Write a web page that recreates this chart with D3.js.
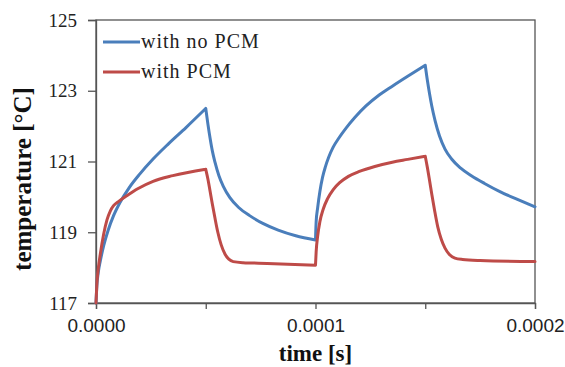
<!DOCTYPE html>
<html><head><meta charset="utf-8">
<script src="https://cdn.jsdelivr.net/npm/d3@7"></script>
<style>body{margin:0;background:#fff}svg{display:block}</style>
</head><body><div id="chart"></div>
<script>
const seriesNames = ["with no PCM", "with PCM"];
const seriesColors = ["#4a7ebb", "#be4b48"];
// time in microseconds (converted to seconds below)
const timeNoPCMus = [0, 0.4, 1, 2, 3.5, 5.5, 8, 11, 15, 20, 26, 33, 41, 50,
  51, 52, 53, 54.2, 56, 58, 61, 65, 70, 76, 83, 91, 100,
  100.3, 101, 102, 103.2, 104.5, 106, 108, 110.5, 114, 118, 123, 129, 135, 142, 150,
  151, 152, 153, 154.5, 156.5, 159, 162, 166, 171, 177, 184, 192, 200];
const tempNoPCM = [117, 117.5, 117.85, 118.2, 118.62, 119.05, 119.47, 119.85, 120.25, 120.65, 121.07, 121.5, 121.96, 122.5,
  122.05, 121.65, 121.3, 120.98, 120.6, 120.3, 119.98, 119.7, 119.47, 119.25, 119.06, 118.9, 118.78,
  119.3, 119.7, 120.15, 120.55, 120.85, 121.12, 121.4, 121.65, 121.95, 122.25, 122.57, 122.88, 123.13, 123.41, 123.72,
  123.28, 122.9, 122.56, 122.15, 121.72, 121.35, 121.07, 120.82, 120.6, 120.38, 120.15, 119.93, 119.72];
const timePCMus = [0, 0.4, 1, 2, 3.5, 5, 6.5, 8, 10.5, 14, 19, 26, 35, 50,
  51, 52, 53, 54.2, 55.5, 57, 58.8, 60.5, 62.5, 67, 78, 100,
  100.3, 101, 102, 103.5, 105.5, 108, 111, 115, 120, 127, 135, 142, 150,
  151, 152, 153, 154.3, 155.7, 157.3, 159, 161, 163.5, 167, 175, 200];
const tempPCM = [117, 117.55, 117.95, 118.4, 118.95, 119.35, 119.6, 119.75, 119.88, 120.03, 120.23, 120.44, 120.6, 120.78,
  120.5, 120.15, 119.8, 119.4, 119.0, 118.65, 118.38, 118.24, 118.17, 118.14, 118.12, 118.07,
  118.45, 118.9, 119.3, 119.65, 119.95, 120.2, 120.4, 120.58, 120.72, 120.86, 120.98, 121.06, 121.15,
  120.82, 120.45, 120.07, 119.6, 119.15, 118.8, 118.55, 118.37, 118.27, 118.23, 118.2, 118.17];
const breakTimesUs = [50, 100, 150];
const yTicks = [117, 119, 121, 123, 125];
const xTicks = [0, 0.00005, 0.0001, 0.00015, 0.0002];
const xTickLabels = ["0.0000", "", "0.0001", "", "0.0002"];
const xTitle = "time [s]";
const yTitle = "temperature [°C]";

const W = 565, H = 367;
const m = {left: 96, right: 30, top: 20, bottom: 64};
const serif = "'Liberation Serif', 'Times New Roman', serif";
const sans = "'Liberation Sans', Arial, sans-serif";
const svg = d3.select("#chart").append("svg").attr("width", W).attr("height", H);
const x = d3.scaleLinear().domain([0, 0.0002]).range([m.left, W - m.right]);
const y = d3.scaleLinear().domain([117, 125]).range([H - m.bottom, m.top]);
const axisColor = "#555";

svg.append("rect").attr("x", x(0)).attr("y", y(125)).attr("width", x(0.0002) - x(0)).attr("height", y(117) - y(125))
  .attr("fill", "none").attr("stroke", axisColor).attr("stroke-width", 1.3);

const yAxis = svg.append("g").attr("transform", `translate(${x(0)},0)`)
  .call(d3.axisLeft(y).tickValues(yTicks).tickSize(8).tickPadding(11).tickFormat(d3.format("d")));
yAxis.select(".domain").attr("stroke", axisColor).attr("stroke-width", 1.3);
yAxis.selectAll(".tick line").attr("stroke", axisColor).attr("stroke-width", 1.3);
yAxis.selectAll("text").attr("font-family", serif).attr("font-size", 19).attr("fill", "#222");

const xAxis = svg.append("g").attr("transform", `translate(0,${y(117)})`)
  .call(d3.axisBottom(x).tickValues(xTicks).tickSize(6).tickPadding(10).tickFormat((d, i) => xTickLabels[i]));
xAxis.select(".domain").attr("stroke", axisColor).attr("stroke-width", 1.3);
xAxis.selectAll(".tick line").attr("stroke", axisColor).attr("stroke-width", 1.3);
xAxis.selectAll("text").attr("font-family", sans).attr("font-size", 19).attr("fill", "#222");

svg.append("text").attr("x", (x(0) + x(0.0002)) / 2).attr("y", 361).attr("text-anchor", "middle")
  .attr("font-family", serif).attr("font-weight", "bold").attr("font-size", 23).attr("fill", "#111").text(xTitle);
svg.append("text").attr("transform", `translate(31,179) rotate(-90)`).attr("text-anchor", "middle")
  .attr("font-family", serif).attr("font-weight", "bold").attr("font-size", 25).attr("fill", "#111").text(yTitle);

const line = d3.line().x(d => x(d[0] * 1e-6)).y(d => y(d[1])).curve(d3.curveMonotoneX);
function segPath(ts, vs) {
  const pts = ts.map((t, i) => [t, vs[i]]);
  const bounds = [0, ...breakTimesUs, 200];
  let p = "";
  for (let k = 0; k < bounds.length - 1; k++) {
    const seg = pts.filter(d => d[0] >= bounds[k] && d[0] <= bounds[k + 1]);
    p += line(seg);
  }
  return p;
}
const seriesData = [[timeNoPCMus, tempNoPCM], [timePCMus, tempPCM]];
seriesData.forEach((s, i) => {
  svg.append("path").attr("d", segPath(s[0], s[1])).attr("fill", "none")
    .attr("stroke", seriesColors[i]).attr("stroke-width", 3).attr("stroke-linejoin", "round").attr("stroke-linecap", "round");
});

const legendY = [42, 72];
seriesNames.forEach((n, i) => {
  svg.append("line").attr("x1", 103).attr("x2", 140).attr("y1", legendY[i]).attr("y2", legendY[i])
    .attr("stroke", seriesColors[i]).attr("stroke-width", 3);
  svg.append("text").attr("x", 141).attr("y", legendY[i] + 6).attr("font-family", serif)
    .attr("font-size", 20).attr("fill", "#222").attr("letter-spacing", 1).text(n);
});
</script></body></html>
